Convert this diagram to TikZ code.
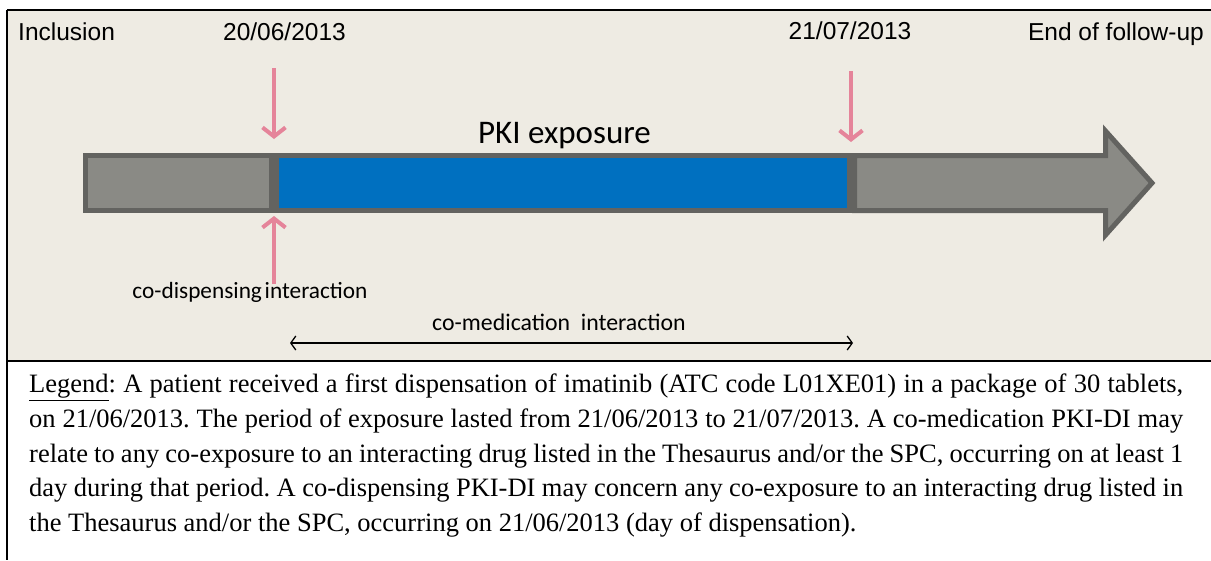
\documentclass[tikz,border=0pt]{standalone}
\usepackage{fontspec}
\setmainfont{Liberation Serif}
\newfontfamily\arialf{Liberation Sans}
\newfontfamily\calibrif{Carlito}
\usetikzlibrary{arrows.meta}
\definecolor{beige}{HTML}{EEEBE3}
\definecolor{barfill}{HTML}{8A8A85}
\definecolor{barline}{HTML}{636360}
\definecolor{pkiblue}{HTML}{0070C0}
\definecolor{pinkarr}{HTML}{E5849A}
\tikzset{
  toplabel/.style={font=\arialf\fontsize{24.5}{28}\selectfont, inner sep=0pt},
  smalllabel/.style={font=\calibrif\fontsize{23.3}{26}\selectfont, inner sep=0pt},
  barbox/.style={draw=barline, line width=5pt},
  pinkarrow/.style={draw=pinkarr, line width=4pt, -{Straight Barb[length=9pt,width=23pt,line width=4pt]}},
  spanarrow/.style={draw=black, line width=1.3pt, {Straight Barb[length=5pt,width=14pt]}-{Straight Barb[length=5pt,width=14pt]}}
}
\begin{document}
\begin{tikzpicture}[x=1pt,y=-1pt]
\useasboundingbox (0,0) rectangle (1211,560);
\fill[white] (0,0) rectangle (1211,560);
\fill[beige] (7,10) rectangle (1211,361);
\draw[line width=2.5pt] (7,10) -- (1211,10);
\draw[line width=2.5pt] (7,10) -- (7,560);
\draw[line width=2pt] (7,361) -- (1211,361);

% top labels
\node[toplabel, anchor=base west] (incl) at (18,40) {Inclusion};
\node[toplabel, anchor=base] (d1) at (284.5,40) {20/06/2013};
\node[toplabel, anchor=base] (d2) at (850,39) {21/07/2013};
\node[toplabel, anchor=base east] (end) at (1204,40) {End of follow-up};

% bars
\draw[barbox, fill=barfill] (85.5,155.5) rectangle (271.5,210.5);
\draw[barbox, fill=barfill] (854.5,155.5) -- (1105.5,155.5) -- (1105.5,131) -- (1152,183) -- (1105.5,235) -- (1105.5,210.5) -- (854.5,210.5) -- cycle;
\draw[barbox, fill=pkiblue] (276.5,155.5) rectangle (849.5,210.5);
\node[smalllabel, font=\calibrif\fontsize{33}{36}\selectfont, anchor=base] (pki) at (564.5,143) {PKI exposure};

% pink arrows
\coordinate (a1s) at (274,68);
\coordinate (a1e) at (274,139);
\coordinate (a2s) at (851,71);
\coordinate (a2e) at (851,142);
\coordinate (a3s) at (274,284);
\coordinate (a3e) at (274,216);
\draw[pinkarrow] (a1s) -- (a1e);
\draw[pinkarrow] (a2s) -- (a2e);
\draw[pinkarrow] (a3s) -- (a3e);

\node[smalllabel] (codisp) at (250,292) {co-dispensing\hspace{0.12em}interaction};
\node[smalllabel, font=\calibrif\fontsize{23.8}{26}\selectfont] (comed) at (559,322) {co-medication\ \ interaction};
\coordinate (s1) at (290,343);
\coordinate (s2) at (853,343);
\draw[spanarrow] (s1) -- (s2);

% legend
\node[anchor=north west, inner sep=0pt, text width=1154pt, align=justify, font=\fontsize{26.5}{34.7}\selectfont\frenchspacing] (legend) at (29,374) {%
\underline{Legend}: A patient received a first dispensation of imatinib (ATC code L01XE01) in a package of 30 tablets,\linebreak
on 21/06/2013. The period of exposure lasted from 21/06/2013 to 21/07/2013. A co-medication PKI-DI may\linebreak
relate to any co-exposure to an interacting drug listed in the Thesaurus and/or the SPC, occurring on at least 1\linebreak
day during that period. A co-dispensing PKI-DI may concern any co-exposure to an interacting drug listed in\linebreak
the Thesaurus and/or the SPC, occurring on 21/06/2013 (day of dispensation).};
\end{tikzpicture}
\end{document}
